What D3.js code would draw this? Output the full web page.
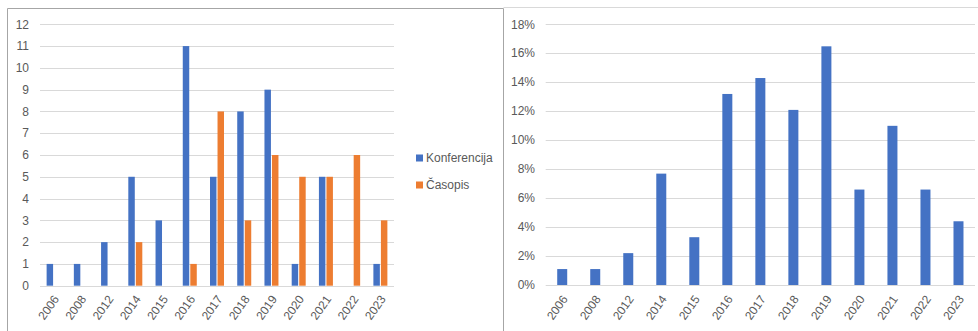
<!DOCTYPE html>
<html>
<head>
<meta charset="utf-8">
<script src="https://cdn.jsdelivr.net/npm/d3@7"></script>
<style>
  body { margin: 0; background: #fff; }
  text { font-family: "Liberation Sans", Arial, sans-serif; fill: #595959; }
</style>
</head>
<body>
<script>
// data
var years = ['2006','2008','2012','2014','2015','2016','2017','2018','2019','2020','2021','2022','2023'];
var konferencija = [1, 1, 2, 5, 3, 11, 5, 8, 9, 1, 5, 0, 1];
var casopis = [0, 0, 0, 2, 0, 1, 8, 3, 6, 5, 5, 6, 3];
var share = [0.011, 0.011, 0.022, 0.0769, 0.033, 0.1319, 0.1429, 0.1209, 0.1648, 0.0659, 0.1099, 0.0659, 0.044];
var countTicks = [0,1,2,3,4,5,6,7,8,9,10,11,12];
var pctTicks = [0,0.02,0.04,0.06,0.08,0.10,0.12,0.14,0.16,0.18];
var seriesNames = ['Konferencija', 'Časopis'];
var colors = ['#4472C4', '#ED7D31'];

var W = 978, H = 331;
var svg = d3.select('body').append('svg').attr('width', W).attr('height', H);

// panel borders
svg.append('path').attr('d', 'M7.5,331 V8.5 H503.5 V331')
  .attr('fill', 'none').attr('stroke', '#a6a6a6');
svg.append('path').attr('d', 'M503.5,7.5 H978')
  .attr('fill', 'none').attr('stroke', '#d9d9d9');

// ---------- left chart ----------
var left = svg.append('g');
var x1 = d3.scaleBand().domain(years).range([40, 394]);
var y1 = d3.scaleLinear().domain([0, 12]).range([285.7, 24.3]);
var sub = d3.scaleBand().domain([0, 1]).range([-7, 7]).paddingInner(0.14);

left.selectAll('line.grid').data(countTicks).enter().append('line')
  .attr('class', 'grid')
  .attr('x1', 40).attr('x2', 394)
  .attr('y1', function(d){ return Math.round(y1(d)) + 0.5; })
  .attr('y2', function(d){ return Math.round(y1(d)) + 0.5; })
  .attr('stroke', '#d9d9d9');

left.selectAll('text.yt').data(countTicks).enter().append('text')
  .attr('class', 'yt')
  .attr('x', 29).attr('y', function(d){ return y1(d); })
  .attr('dy', '0.35em').attr('text-anchor', 'end')
  .style('font-size', '12px')
  .text(function(d){ return d; });

var groups = left.selectAll('g.yr').data(years).enter().append('g')
  .attr('transform', function(d){ return 'translate(' + (x1(d) + x1.bandwidth() / 2) + ',0)'; });

groups.selectAll('rect').data(function(d, i){ return [konferencija[i], casopis[i]]; })
  .enter().append('rect')
  .attr('x', function(d, j){ return sub(j); })
  .attr('width', sub.bandwidth())
  .attr('y', function(d){ return y1(d); })
  .attr('height', function(d){ return y1(0) - y1(d); })
  .attr('fill', function(d, j){ return colors[j]; });

left.selectAll('text.xt').data(years).enter().append('text')
  .attr('class', 'xt')
  .attr('text-anchor', 'end')
  .style('font-size', '12px')
  .attr('transform', function(d){
    return 'translate(' + (x1(d) + x1.bandwidth() / 2 + 6) + ',299) rotate(-55)';
  })
  .text(function(d){ return d; });

// legend
var lg = left.selectAll('g.lg').data(seriesNames).enter().append('g')
  .attr('transform', function(d, i){ return 'translate(416,' + (158 + i * 27) + ')'; });
lg.append('rect').attr('x', 0).attr('y', -3.5).attr('width', 7).attr('height', 7)
  .attr('fill', function(d, i){ return colors[i]; });
lg.append('text').attr('x', 10).attr('dy', '0.35em')
  .style('font-size', '12px')
  .text(function(d){ return d; });

// ---------- right chart ----------
var right = svg.append('g');
var x2 = d3.scaleBand().domain(years).range([545.7, 975]);
var y2 = d3.scaleLinear().domain([0, 0.18]).range([285, 24.3]);

right.selectAll('line.grid').data(pctTicks).enter().append('line')
  .attr('class', 'grid')
  .attr('x1', 545.7).attr('x2', 975)
  .attr('y1', function(d){ return Math.round(y2(d)) + 0.5; })
  .attr('y2', function(d){ return Math.round(y2(d)) + 0.5; })
  .attr('stroke', '#d9d9d9');

right.selectAll('text.yt').data(pctTicks).enter().append('text')
  .attr('class', 'yt')
  .attr('x', 535).attr('y', function(d){ return y2(d); })
  .attr('dy', '0.35em').attr('text-anchor', 'end')
  .style('font-size', '12px')
  .text(d3.format('.0%'));

right.selectAll('rect').data(share).enter().append('rect')
  .attr('x', function(d, i){ return x2(years[i]) + x2.bandwidth() / 2 - 5; })
  .attr('width', 10)
  .attr('y', function(d){ return y2(d); })
  .attr('height', function(d){ return y2(0) - y2(d); })
  .attr('fill', colors[0]);

right.selectAll('text.xt').data(years).enter().append('text')
  .attr('class', 'xt')
  .attr('text-anchor', 'end')
  .style('font-size', '12px')
  .attr('transform', function(d){
    return 'translate(' + (x2(d) + x2.bandwidth() / 2 + 6) + ',299) rotate(-55)';
  })
  .text(function(d){ return d; });
</script>
</body>
</html>
